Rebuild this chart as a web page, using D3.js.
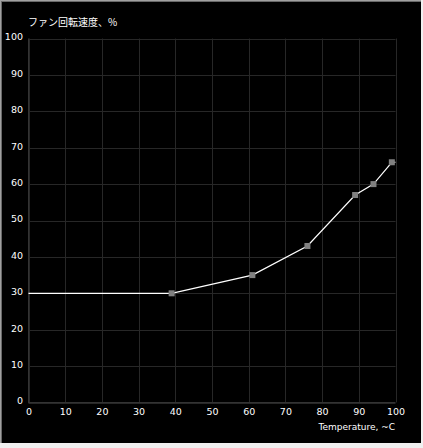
<!DOCTYPE html>
<html><head><meta charset="utf-8">
<script src="https://cdn.jsdelivr.net/npm/d3@7"></script>
<style>
html,body{margin:0;padding:0;background:#f0f0f0;}
svg{display:block;}
</style></head>
<body>
<script>
// Data
const pointTemps = [39, 61, 76, 89, 94, 99];      // °C (markers)
const pointSpeeds = [30, 35, 43, 57, 60, 66];     // %
const lineStart = [0, 30];                        // flat segment start
const lineEnd = [100, 66];                        // flat segment end
const xTicks = [0, 10, 20, 30, 40, 50, 60, 70, 80, 90, 100];
const yTicks = [0, 10, 20, 30, 40, 50, 60, 70, 80, 90, 100];
const titleText = "ファン回転速度、%";
const xLabelText = "Temperature, ~C";

const W = 423, H = 448;
const svg = d3.select("body").append("svg").attr("width", W).attr("height", H);

// frame
svg.append("rect").attr("x",0).attr("y",0).attr("width",W).attr("height",H).attr("fill","#f0f0f0");
svg.append("rect").attr("x",0).attr("y",0).attr("width",421).attr("height",1).attr("fill","#a0a0a0");
svg.append("rect").attr("x",0).attr("y",0).attr("width",1).attr("height",443).attr("fill","#a0a0a0");
svg.append("rect").attr("x",1).attr("y",1).attr("width",420).attr("height",1).attr("fill","#696969");
svg.append("rect").attr("x",1).attr("y",1).attr("width",1).attr("height",442).attr("fill","#696969");
svg.append("rect").attr("x",2).attr("y",2).attr("width",419).attr("height",441).attr("fill","#000");

const x = d3.scaleLinear().domain([0,100]).range([28.5, 395.5]);
const y = d3.scaleLinear().domain([0,100]).range([402.5, 38.5]);

const font = "'DejaVu Sans', 'Noto Sans CJK JP', sans-serif";
const gridColor = "#272727";

// grid
svg.append("g").selectAll("line").data(xTicks).join("line")
  .attr("x1", d => Math.round(x(d)) + 0.5).attr("x2", d => Math.round(x(d)) + 0.5)
  .attr("y1", y(100)).attr("y2", y(0))
  .attr("stroke", gridColor).attr("stroke-width", 1);
svg.append("g").selectAll("line").data(yTicks).join("line")
  .attr("y1", d => Math.round(y(d)) + 0.5).attr("y2", d => Math.round(y(d)) + 0.5)
  .attr("x1", x(0)).attr("x2", x(100))
  .attr("stroke", gridColor).attr("stroke-width", 1);
// axes lines
svg.append("line").attr("x1", x(0)).attr("x2", x(0)).attr("y1", y(100)).attr("y2", y(0)+0.5)
  .attr("stroke", "#333");
svg.append("line").attr("x1", x(0)).attr("x2", x(100)).attr("y1", y(0)).attr("y2", y(0))
  .attr("stroke", "#333");

// axes labels via d3 axes
const yAxis = svg.append("g").attr("transform", "translate(23,0)")
  .call(d3.axisLeft(y).tickValues(yTicks).tickSize(0).tickPadding(0).tickFormat(d3.format("d")));
yAxis.select(".domain").remove();
yAxis.selectAll("text").attr("fill", "#fff").attr("font-family", font).attr("font-size", "9.5px")
  .attr("dy", "0.15em");

const xAxis = svg.append("g").attr("transform", `translate(0,${y(0)})`)
  .call(d3.axisBottom(x).tickValues(xTicks).tickSize(0).tickPadding(6).tickFormat(d3.format("d")));
xAxis.select(".domain").remove();
xAxis.selectAll("text").attr("fill", "#fff").attr("font-family", font).attr("font-size", "9.5px");

// titles
svg.append("text").attr("x", 28).attr("y", 26).attr("fill", "#fff")
  .attr("font-family", "'Noto Sans CJK JP', sans-serif").attr("font-size", "10px")
  .text(titleText);
svg.append("text").attr("x", 395).attr("y", 430).attr("text-anchor", "end").attr("fill", "#fff")
  .attr("font-family", font).attr("font-size", "9px")
  .text(xLabelText);

// line
const linePts = [lineStart].concat(pointTemps.map((t, i) => [t, pointSpeeds[i]])).concat([lineEnd]);
svg.append("path").datum(linePts)
  .attr("d", d3.line().x(d => x(d[0])).y(d => y(d[1])))
  .attr("fill", "none").attr("stroke", "#fff").attr("stroke-width", 1.2);

// markers
svg.append("g").selectAll("rect").data(pointTemps).join("rect")
  .attr("x", d => x(d) - 3).attr("y", (d, i) => y(pointSpeeds[i]) - 3)
  .attr("width", 6).attr("height", 6).attr("fill", "#808080");
</script>
</body></html>
